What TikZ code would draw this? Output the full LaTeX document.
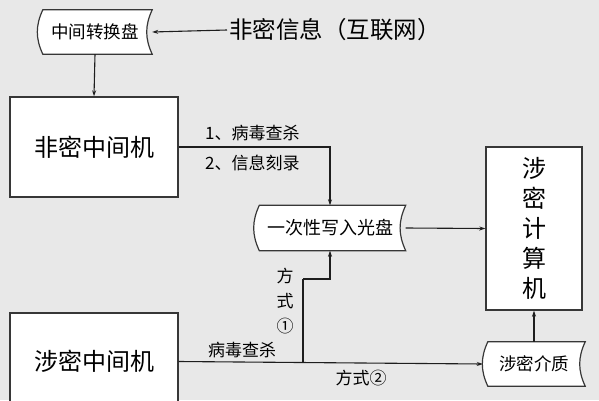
\documentclass[tikz,border=0pt]{standalone}
\usepackage{fontspec}
\setmainfont{Noto Sans CJK SC}
\usetikzlibrary{arrows.meta,calc,backgrounds}
\definecolor{bgc}{RGB}{232,232,232}
\definecolor{linec}{RGB}{30,30,30}
\definecolor{boxc}{RGB}{55,55,55}
\tikzset{
  box/.style={draw=boxc,line width=1.4pt,fill=white,inner sep=0pt},
  storedtext/.style={inner sep=0pt,minimum height=44pt},
  conn/.style={draw=linec,line width=1.1pt,-{Stealth[length=6pt,width=4pt]}},
  plainline/.style={draw=linec,line width=1.1pt},
  lbl/.style={inner sep=0pt,font=\fontsize{17}{20}\selectfont,text=black}
}
\newcommand\storedshape[2]{%
  \draw[draw=boxc,line width=1.2pt,fill=white]
    (#1.north east) to[out=-115,in=115] (#1.south east)
    -- ($(#1.south west)+(#2,0)$) to[out=115,in=-115] ($(#1.north west)+(#2,0)$)
    -- cycle;}
\begin{document}
\begin{tikzpicture}[x=1pt,y=1pt]
\useasboundingbox (0,0) rectangle (599,400);
% nodes
\node[storedtext,minimum width=114pt,font=\fontsize{17.5}{20}\selectfont] (conv) at (95,368) {中间转换盘};
\node[inner sep=2pt,anchor=west,font=\fontsize{23.5}{26}\selectfont] (info) at (227,370) {非密信息（互联网）};
\node[box,minimum width=168pt,minimum height=100pt,font=\fontsize{24}{27}\selectfont] (b1) at (94,253) {非密中间机};
\node[storedtext,minimum width=151pt,minimum height=45pt,font=\fontsize{18}{21}\selectfont] (disk) at (330,172) {一次性写入光盘};
\node[box,minimum width=96pt,minimum height=163pt,align=center,font=\fontsize{24}{30}\selectfont] (comp) at (534,171.5) {涉\\密\\计\\算\\机};
\node[box,minimum width=168pt,minimum height=97pt,font=\fontsize{24}{27}\selectfont] (b2) at (94,38.5) {涉密中间机};
\node[storedtext,minimum width=102pt,font=\fontsize{17.5}{20}\selectfont] (media) at (534,36) {涉密介质};
\begin{scope}[on background layer]
  \fill[bgc] (0,0) rectangle (599,400);
  \storedshape{conv}{5}
  \storedshape{disk}{5}
  \storedshape{media}{5}
\end{scope}
% labels
\node[lbl,anchor=west] (l1) at (205,267) {1、病毒查杀};
\node[lbl,anchor=west] (l2) at (205,237) {2、信息刻录};
\node[lbl] (l3) at (242,50) {病毒查杀};
\node[lbl] (l4) at (361,22) {方式②};
\node[lbl,align=center,font=\fontsize{17}{25}\selectfont] (l5) at (285,99) {方\\式\\①};
% connectors
\coordinate (j) at (303,38);
\coordinate (k) at (303,121);
\draw[conn] (info.west) -- (conv.east);
\draw[conn] (conv.south) -- (b1.north);
\draw[conn] (b1.east) -| (disk.north);
\draw[conn] (disk.east) -- (comp.west);
\draw[conn] (b2.east) -- (media.west);
\draw[plainline] (j) -- (k);
\draw[conn] (k) -| (disk.south);
\draw[conn] (media.north) -- (comp.south);
\end{tikzpicture}
\end{document}
